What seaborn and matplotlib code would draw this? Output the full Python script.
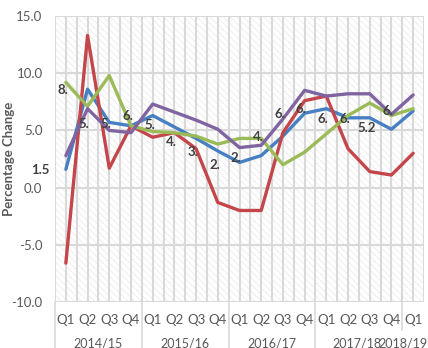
import matplotlib
matplotlib.use("Agg")
import matplotlib.pyplot as plt
import matplotlib.transforms as mtransforms
from matplotlib.patches import Rectangle
import pandas as pd
import seaborn as sns

# Quarterly categories
years = ["2014/15", "2015/16", "2016/17", "2017/18", "2018/19"]
quarters = ["Q1", "Q2", "Q3", "Q4", "Q1", "Q2", "Q3", "Q4", "Q1", "Q2", "Q3", "Q4",
            "Q1", "Q2", "Q3", "Q4", "Q1"]

# Percentage change series
series_blue = [1.6, 8.6, 5.7, 5.4, 6.3, 5.3, 4.3, 3.2, 2.2, 2.8, 4.5, 6.5, 6.9, 6.1, 6.1, 5.1, 6.7]
series_red = [-6.6, 13.3, 1.7, 5.4, 4.4, 4.8, 3.4, -1.3, -2.0, -2.0, 4.8, 7.6, 8.0, 3.4, 1.4, 1.1, 3.0]
series_green = [9.2, 7.1, 9.8, 5.4, 4.9, 4.8, 4.5, 3.8, 4.3, 4.3, 2.0, 3.1, 4.7, 6.3, 7.4, 6.3, 6.9]
series_purple = [2.8, 6.9, 5.0, 4.8, 7.3, 6.6, 5.9, 5.1, 3.5, 3.7, 6.0, 8.5, 8.0, 8.2, 8.2, 6.4, 8.1]

# Labelled reference values (no line drawn)
ref_values = [1.5, 8.5, 5.6, 5.6, 6.3, 5.5, 4.0, 3.1, 2.0, 2.6, 4.4, 6.4, 6.9, 6.0, 6.0, 5.2, 6.7]
ref_labels = ["1.5", "8.", "5.", "5.", "6.", "5.", "4.", "3.", "2.", "2.", "4.", "6.",
              "6.", "6.", "6.", "5.2", "6."]

series_names = ["A", "B", "C", "D"]
series_data = [series_blue, series_red, series_green, series_purple]
colors = {"A": "#4680C2", "B": "#C4464A", "C": "#9BBB59", "D": "#8064A2"}

rows = []
for name, vals in zip(series_names, series_data):
    for i, v in enumerate(vals):
        rows.append({"idx": i, "value": v, "series": name})
df = pd.DataFrame(rows)

sns.set_style("white")
plt.rcParams["font.family"] = ["Lato", "DejaVu Sans"]
plt.rcParams["hatch.linewidth"] = 0.6

W, H = 428, 348
fig = plt.figure(figsize=(W / 100, H / 100), dpi=100)
left, right, top, bottom = 55, 424, 16, 302
ax = fig.add_axes([left / W, 1 - bottom / H, (right - left) / W, (bottom - top) / H])

n = len(quarters)
ax.set_xlim(-0.5, n - 0.5)
ax.set_ylim(-10, 15)

# textured plot background
ax.add_patch(Rectangle((0, 0), 1, 1, transform=ax.transAxes, facecolor="white",
                       edgecolor="#ececec", hatch="\\\\\\\\\\", lw=0, zorder=0))

grid_c = "#d9d9d9"
for k in range(2 * n + 1):
    ax.axvline(-0.5 + 0.5 * k, color=grid_c, lw=1.5, zorder=1)
for yv in [-10, -5, 0, 5, 10, 15]:
    ax.axhline(yv, color=grid_c, lw=1.5, zorder=1)

sns.lineplot(data=df, x="idx", y="value", hue="series", palette=colors,
             hue_order=series_names, linewidth=2.4, sort=False, estimator=None,
             legend=False, ax=ax, zorder=3)

for i, (v, t) in enumerate(zip(ref_values, ref_labels)):
    ax.annotate(t, xy=(i, v), xytext=(-25, 0), textcoords="offset pixels",
                ha="center", va="center", fontsize=9.5, fontweight="bold",
                color="#404040", zorder=4, annotation_clip=False)

for s in ax.spines.values():
    s.set_visible(False)

ax.set_yticks([-10, -5, 0, 5, 10, 15])
ax.set_yticklabels([f"{v:.1f}" for v in [-10, -5, 0, 5, 10, 15]])
ax.set_xticks(range(n))
ax.set_xticklabels(quarters)
ax.tick_params(axis="both", length=0, labelsize=9.5, labelcolor="#595959")
ax.tick_params(axis="y", pad=9)
ax.tick_params(axis="x", pad=9)
ax.set_xlabel("")
ax.set_ylabel("Percentage Change", fontsize=9.5, fontweight="bold", color="#595959")
ax.yaxis.set_label_coords(-(left - 15) / (right - left), 0.5)

# year groups under the quarter labels
trans = mtransforms.blended_transform_factory(ax.transData, ax.transAxes)
axh = bottom - top
for b, depth in zip([-0.5, 3.5, 7.5, 11.5, 15.5], [46, 46, 46, 46, 28]):
    ax.plot([b, b], [0, -depth / axh], transform=trans, color=grid_c, lw=1.2,
            clip_on=False, zorder=1)
for g, yname in enumerate(years[:4]):
    ax.text(g * 4 + 1.5 - (0.1 if g == 3 else 0), -41 / axh, yname, transform=trans,
            ha="center", va="center", fontsize=9, color="#595959")
ax.text(1.0 + 4 / (right - left), -41 / axh, years[4], transform=ax.transAxes,
        ha="right", va="center", fontsize=9, color="#595959")

fig.savefig("out.png", dpi=100)
